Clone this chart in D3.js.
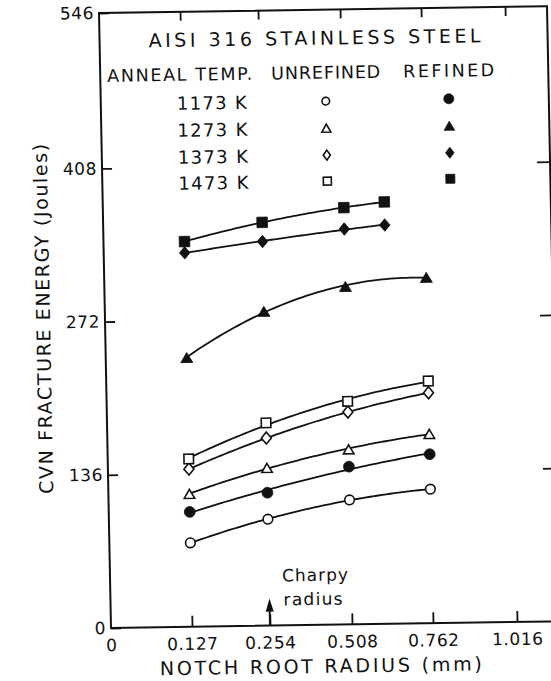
<!DOCTYPE html>
<html>
<head>
<meta charset="utf-8">
<script src="https://cdn.jsdelivr.net/npm/d3@7"></script>
<style>
  html, body { margin: 0; padding: 0; background: #fff; }
  svg { display: block; }
  text { font-family: "DejaVu Sans", "Liberation Sans", sans-serif; fill: #111; }
</style>
</head>
<body>
<svg id="chart" width="551" height="681"></svg>
<script>
// Notch root radius (mm) at which specimens were tested
const radius = [0.127, 0.254, 0.508, 0.762];
const radiusShort = [0.127, 0.254, 0.508, 0.635];

// CVN fracture energy (J), unrefined material
const unrefined1173 = [74.5, 94.5, 110.5, 119];
const unrefined1273 = [118, 140, 155.5, 168];
const unrefined1373 = [140, 166.5, 188.5, 204.5];
const unrefined1473 = [149, 180, 198, 215];

// CVN fracture energy (J), refined material
const refined1173 = [102, 118, 140, 150];
const refined1273 = [239, 279, 300, 307];
const refined1373 = [332, 341, 351, 354];
const refined1473 = [342, 358, 370, 374.5];

// Axis ticks and labels
const xTicks = [0, 0.127, 0.254, 0.508, 0.762, 1.016];
const xTickLabels = ["0", "0.127", "0.254", "0.508", "0.762", "1.016"];
const yTicks = [0, 136, 272, 408, 546];

const annealTemps = ["1173 K", "1273 K", "1373 K", "1473 K"];
const shapes = ["circle", "triangle", "diamond", "square"];

const series = [
  { temp: 0, refined: false, r: radius, v: unrefined1173 },
  { temp: 1, refined: false, r: radius, v: unrefined1273 },
  { temp: 2, refined: false, r: radius, v: unrefined1373 },
  { temp: 3, refined: false, r: radius, v: unrefined1473 },
  { temp: 0, refined: true,  r: radius, v: refined1173 },
  { temp: 1, refined: true,  r: radius, v: refined1273 },
  { temp: 2, refined: true,  r: radiusShort, v: refined1373 },
  { temp: 3, refined: true,  r: radiusShort, v: refined1473 }
];

const svg = d3.select("#chart");
svg.append("rect").attr("width", 551).attr("height", 681).attr("fill", "#fff");

// frame geometry (local coordinates)
const frameLeft = 111, frameRight = 559, frameTop = 13, frameBottom = 628;

// the whole drawing sits on a slightly sheared sheet
const shx = 0.0195, shy = -0.015;
const g = svg.append("g")
  .attr("transform", `matrix(1,${shy},${shx},1,${-shx * frameBottom},${-shy * frameLeft})`);

// equally spaced tick stations, one scale segment per station
const x = d3.scaleLinear().domain(xTicks).range([111, 192, 270, 352, 433, 517]);
const y = d3.scaleLinear().domain([0, 546]).range([frameBottom, frameTop]);

// frame
g.append("path")
  .attr("d", `M${frameLeft},${frameTop}H${frameRight}V${frameBottom}H${frameLeft}Z`)
  .attr("fill", "none").attr("stroke", "#111").attr("stroke-width", 2);

function styleAxis(sel, fontSize) {
  sel.select(".domain").remove();
  sel.selectAll(".tick line").attr("stroke", "#111").attr("stroke-width", 1.8);
  sel.selectAll(".tick text")
    .style("font-family", '"DejaVu Sans", sans-serif')
    .attr("font-size", fontSize).attr("fill", "#111")
    .attr("letter-spacing", 0.6);
}

g.append("g").attr("transform", `translate(0,${frameBottom})`)
  .call(d3.axisBottom(x).tickValues(xTicks)
    .tickFormat((d, i) => xTickLabels[i])
    .tickSizeInner(-11).tickSizeOuter(0).tickPadding(11))
  .call(s => styleAxis(s, 17))
  .call(s => s.selectAll(".tick").filter(d => d === 0).select("line").remove());

g.append("g").attr("transform", `translate(0,${frameTop})`)
  .call(d3.axisTop(x).tickValues(xTicks.slice(1)).tickFormat("")
    .tickSizeInner(-9).tickSizeOuter(0))
  .call(s => styleAxis(s, 17));

g.append("g").attr("transform", `translate(${frameLeft},0)`)
  .call(d3.axisLeft(y).tickValues(yTicks).tickFormat(d3.format("d"))
    .tickSizeInner(-10).tickSizeOuter(0).tickPadding(5))
  .call(s => styleAxis(s, 17));

g.append("g").attr("transform", `translate(${frameRight},0)`)
  .call(d3.axisRight(y).tickValues(yTicks.slice(1, 4)).tickFormat("")
    .tickSizeInner(-13).tickSizeOuter(0))
  .call(s => styleAxis(s, 17));

// axis titles
g.append("text")
  .attr("x", 320).attr("y", 676)
  .attr("text-anchor", "middle")
  .attr("font-size", 19)
  .attr("textLength", 322).attr("lengthAdjust", "spacing")
  .text("NOTCH ROOT RADIUS (mm)");

g.append("text")
  .attr("transform", "translate(56,318) rotate(-90)")
  .attr("text-anchor", "middle")
  .attr("font-size", 19)
  .attr("textLength", 350).attr("lengthAdjust", "spacing")
  .text("CVN FRACTURE ENERGY (Joules)");

// marker drawing
function marker(sel, shape, filled, s) {
  let m;
  if (shape === "circle") {
    m = sel.append("circle").attr("r", filled ? s.cf : s.co);
  } else if (shape === "square") {
    const a = filled ? s.sf : s.so;
    m = sel.append("rect").attr("x", -a / 2).attr("y", -a / 2).attr("width", a).attr("height", a);
  } else if (shape === "triangle") {
    const [w, h] = filled ? s.tf : s.to;
    m = sel.append("path").attr("d", `M0,${-h / 2}L${w / 2},${h / 2}L${-w / 2},${h / 2}Z`);
  } else {
    const [w, h] = filled ? s.df : s.do;
    m = sel.append("path").attr("d", `M0,${-h / 2}L${w / 2},0L0,${h / 2}L${-w / 2},0Z`);
  }
  m.attr("fill", filled ? "#111" : "#fff")
    .attr("stroke", "#111")
    .attr("stroke-width", filled ? 0.8 : 1.6)
    .attr("stroke-linejoin", "miter");
  return m;
}

const plotSize = { cf: 5.4, co: 4.8, sf: 10.5, so: 9.5, tf: [12, 10], to: [10.5, 9], df: [10.5, 12.5], do: [10, 12] };
const keySize = { cf: 5, co: 3.8, sf: 9, so: 8, tf: [10.5, 9], to: [9, 8], df: [8.5, 11], do: [7, 10] };

// least-squares quadratic through each series, in drawing position
function quadFit(ts, vs) {
  const S = [0, 0, 0, 0, 0], T = [0, 0, 0];
  ts.forEach((t, i) => {
    let p = 1;
    for (let k = 0; k < 5; k++) { S[k] += p; if (k < 3) T[k] += p * vs[i]; p *= t; }
  });
  const A = [[S[0], S[1], S[2], T[0]], [S[1], S[2], S[3], T[1]], [S[2], S[3], S[4], T[2]]];
  for (let c = 0; c < 3; c++) {
    for (let r = c + 1; r < 3; r++) {
      const f = A[r][c] / A[c][c];
      for (let k = c; k < 4; k++) A[r][k] -= f * A[c][k];
    }
  }
  const coef = [0, 0, 0];
  for (let r = 2; r >= 0; r--) {
    let s = A[r][3];
    for (let k = r + 1; k < 3; k++) s -= A[r][k] * coef[k];
    coef[r] = s / A[r][r];
  }
  return t => coef[0] + coef[1] * t + coef[2] * t * t;
}

const line = d3.line().x(d => x(d.r)).y(d => y(d.v));
const curves = g.append("g");
const marks = g.append("g");

series.forEach(sr => {
  // fit about the first station to keep numbers small
  const t0 = x(sr.r[0]);
  const ts = sr.r.map(r => x(r) - t0);
  const f = quadFit(ts, sr.v);
  const t1 = ts[ts.length - 1];
  const pts = d3.range(0, 61).map(i => {
    const t = t1 * i / 60;
    return { r: x.invert(t + t0), v: f(t) };
  });
  curves.append("path").attr("d", line(pts))
    .attr("fill", "none").attr("stroke", "#111").attr("stroke-width", 1.8);

  sr.r.forEach((r, i) => {
    const mg = marks.append("g").attr("transform", `translate(${x(r)},${y(sr.v[i])})`);
    marker(mg, shapes[sr.temp], sr.refined, plotSize);
  });
});

// key
const key = g.append("g");
key.append("text").attr("x", 160).attr("y", 48).attr("font-size", 19)
  .attr("textLength", 332).attr("lengthAdjust", "spacing")
  .text("AISI 316 STAINLESS STEEL");
key.append("text").attr("x", 118).attr("y", 82).attr("font-size", 17.5)
  .attr("textLength", 145).attr("lengthAdjust", "spacing").text("ANNEAL TEMP.");
key.append("text").attr("x", 282).attr("y", 82).attr("font-size", 17.5)
  .attr("textLength", 109).attr("lengthAdjust", "spacing").text("UNREFINED");
key.append("text").attr("x", 414).attr("y", 82).attr("font-size", 17.5)
  .attr("textLength", 91).attr("lengthAdjust", "spacing").text("REFINED");

const rowBase = [111, 138, 165, 191];
annealTemps.forEach((t, i) => {
  key.append("text").attr("x", 187).attr("y", rowBase[i]).attr("font-size", 18)
    .attr("textLength", 70).attr("lengthAdjust", "spacing").text(t);
  marker(key.append("g").attr("transform", `translate(336,${rowBase[i] - 6.5})`), shapes[i], false, keySize);
  marker(key.append("g").attr("transform", `translate(459,${rowBase[i] - 7})`), shapes[i], true, keySize);
});

// standard Charpy notch radius
const charpyR = 0.254;
const ann = g.append("g");
ann.append("line")
  .attr("x1", x(charpyR)).attr("x2", x(charpyR))
  .attr("y1", 612).attr("y2", frameBottom)
  .attr("stroke", "#111").attr("stroke-width", 2);
ann.append("path")
  .attr("d", `M${x(charpyR)},601L${x(charpyR) + 4},614L${x(charpyR) - 4},614Z`)
  .attr("fill", "#111");
ann.append("text").attr("x", 283).attr("y", 584).attr("font-size", 17)
  .attr("textLength", 66).attr("lengthAdjust", "spacing").text("Charpy");
ann.append("text").attr("x", 284).attr("y", 608).attr("font-size", 17)
  .attr("textLength", 59).attr("lengthAdjust", "spacing").text("radius");
</script>
</body>
</html>
